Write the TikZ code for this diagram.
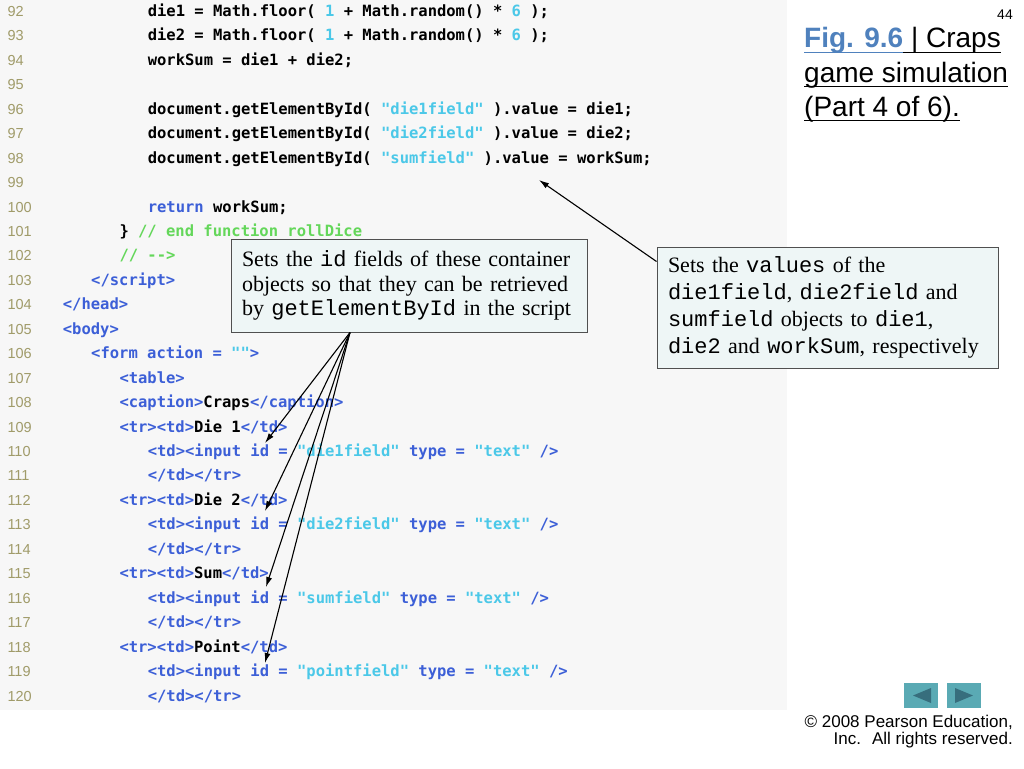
\documentclass[tikz,border=0pt]{standalone}
\usepackage{fontspec}
\setmainfont{Liberation Serif}
\newfontfamily\codefont{DejaVu Sans Mono}
\newfontfamily\numfont{Liberation Sans}
\newfontfamily\sansf{Liberation Sans}
\newfontfamily\bmono{Liberation Mono}
\usetikzlibrary{arrows.meta}
\definecolor{numcol}{RGB}{160,155,105}
\definecolor{kwblue}{RGB}{60,95,215}
\definecolor{strcyan}{RGB}{75,200,232}
\definecolor{comgreen}{RGB}{100,215,90}
\definecolor{codebg}{RGB}{247,247,247}
\definecolor{boxfill}{RGB}{238,246,246}
\definecolor{boxline}{RGB}{80,80,80}
\definecolor{figblue}{RGB}{79,129,189}
\definecolor{btnfill}{RGB}{90,170,180}
\definecolor{btntri}{RGB}{55,110,125}
\newcommand\kw[1]{\textcolor{kwblue}{#1}}
\newcommand\st[1]{\textcolor{strcyan}{#1}}
\newcommand\cm[1]{\textcolor{comgreen}{#1}}
\newcommand\mt[1]{{\bmono #1}}
\newcommand\ulx[2]{\setbox0\hbox{#2}\rlap{\textcolor{#1}{\rule[-5pt]{\wd0}{1.4pt}}}\box0}
\newcommand\numline[1]{\node[numstyle] (n#1) at (7.3,{212+(#1-100)*24.45}) {#1};}
\newcommand\codeline[3]{\numline{#1}\node[codestyle] (c#1) at ({62.7+#2*28.3},{212+(#1-100)*24.45}) {#3};}
\tikzset{
  numstyle/.style={anchor=base west, inner sep=0pt, text=numcol, font=\numfont\fontsize{14.5}{17}\selectfont},
  codestyle/.style={anchor=base west, inner sep=0pt, font=\codefont\bfseries\fontsize{15.5}{18}\selectfont},
  callout/.style={draw=boxline, fill=boxfill, line width=1pt, inner xsep=11pt, inner ysep=0pt, align=left},
  arr/.style={draw=black, line width=1.1pt, -{Latex[length=10pt,width=6pt]}},
  titlestyle/.style={anchor=base west, inner sep=0pt, font=\sansf\fontsize{28}{34}\selectfont},
  smallsans/.style={anchor=base east, inner sep=0pt, font=\sansf\fontsize{17}{17}\selectfont}
}
\begin{document}
\begin{tikzpicture}[x=1pt,y=-1pt]
\useasboundingbox (0,0) rectangle (1024,768);
\fill[white] (0,0) rectangle (1024,768);
\fill[codebg] (0,0) rectangle (787,710);
% code
\codeline{92}{3}{die1 = Math.floor( \st{1} + Math.random() * \st{6} );}
\codeline{93}{3}{die2 = Math.floor( \st{1} + Math.random() * \st{6} );}
\codeline{94}{3}{workSum = die1 + die2;}
\numline{95}
\codeline{96}{3}{document.getElementById( \st{"die1field"} ).value = die1;}
\codeline{97}{3}{document.getElementById( \st{"die2field"} ).value = die2;}
\codeline{98}{3}{document.getElementById( \st{"sumfield"} ).value = workSum;}
\numline{99}
\codeline{100}{3}{\kw{return} workSum;}
\codeline{101}{2}{\} \cm{// end function rollDice}}
\codeline{102}{2}{\cm{// -\kern0pt->}}
\codeline{103}{1}{\kw{</script>}}
\codeline{104}{0}{\kw{</head>}}
\codeline{105}{0}{\kw{<body>}}
\codeline{106}{1}{\kw{<form action =} \st{""}\kw{>}}
\codeline{107}{2}{\kw{<table>}}
\codeline{108}{2}{\kw{<caption>}Craps\kw{</caption>}}
\codeline{109}{2}{\kw{<tr><td>}Die 1\kw{</td>}}
\codeline{110}{3}{\kw{<td><input id =} \st{"die1field"} \kw{type =} \st{"text"} \kw{/>}}
\codeline{111}{3}{\kw{</td></tr>}}
\codeline{112}{2}{\kw{<tr><td>}Die 2\kw{</td>}}
\codeline{113}{3}{\kw{<td><input id =} \st{"die2field"} \kw{type =} \st{"text"} \kw{/>}}
\codeline{114}{3}{\kw{</td></tr>}}
\codeline{115}{2}{\kw{<tr><td>}Sum\kw{</td>}}
\codeline{116}{3}{\kw{<td><input id =} \st{"sumfield"} \kw{type =} \st{"text"} \kw{/>}}
\codeline{117}{3}{\kw{</td></tr>}}
\codeline{118}{2}{\kw{<tr><td>}Point\kw{</td>}}
\codeline{119}{3}{\kw{<td><input id =} \st{"pointfield"} \kw{type =} \st{"text"} \kw{/>}}
\codeline{120}{3}{\kw{</td></tr>}}
% callouts
\node[callout, minimum width=356pt, minimum height=93pt, text width=334pt,
      font=\fontsize{22}{24.5}\selectfont] (box1) at (409,285.5)
  {\mbox{Sets the \mt{id} fields of these container}\\
   \mbox{objects so that they can be retrieved}\\
   \mbox{by \mt{getElementById} in the script}};
\node[callout, minimum width=341pt, minimum height=121pt, text width=319pt,
      font=\fontsize{22}{26.8}\selectfont] (box2) at (827.5,307.5)
  {\mbox{Sets the \mt{values} of the}\\
   \mbox{\mt{die1field}, \mt{die2field} and}\\
   \mbox{\mt{sumfield} objects to \mt{die1},}\\
   \mbox{\mt{die2} and \mt{workSum}, respectively}};
% arrows
\coordinate (s1) at ([xshift=-59pt]box1.south);
\coordinate (a1) at (265,443);
\coordinate (a2) at (265,511);
\coordinate (a3) at (266,587);
\coordinate (a4) at (265,663);
\draw[arr] (s1) -- (a1);
\draw[arr] (s1) -- (a2);
\draw[arr] (s1) -- (a3);
\draw[arr] (s1) -- (a4);
\coordinate (s2) at ([yshift=-15pt]box2.north west);
\coordinate (a5) at (539,180);
\draw[arr] (s2) -- (a5);
% title
\node[anchor=base east, inner sep=0pt, font=\sansf\fontsize{14}{16}\selectfont] (pg) at (1013,20) {44};
\node[titlestyle] (t1) at (804,48) {\ulx{figblue}{\textcolor{figblue}{\bfseries Fig. 9.6}}\ulx{black}{ | Craps}};
\node[titlestyle] (t2) at (804,82) {\ulx{black}{game simulation}};
\node[titlestyle] (t3) at (804,116) {\ulx{black}{(Part 4 of 6).}};
% footer
\node[smallsans] (cp1) at (1013,727) {© 2008 Pearson Education,};
\node[smallsans] (cp2) at (1013,744) {Inc.~ All rights reserved.};
% navigation buttons
\fill[btnfill] (904,683) rectangle (938,708);
\fill[btntri] (913,695.5) -- (931,688) -- (931,703) -- cycle;
\fill[btnfill] (947,683) rectangle (981,708);
\fill[btntri] (973,695.5) -- (955,688) -- (955,703) -- cycle;
\end{tikzpicture}
\end{document}
